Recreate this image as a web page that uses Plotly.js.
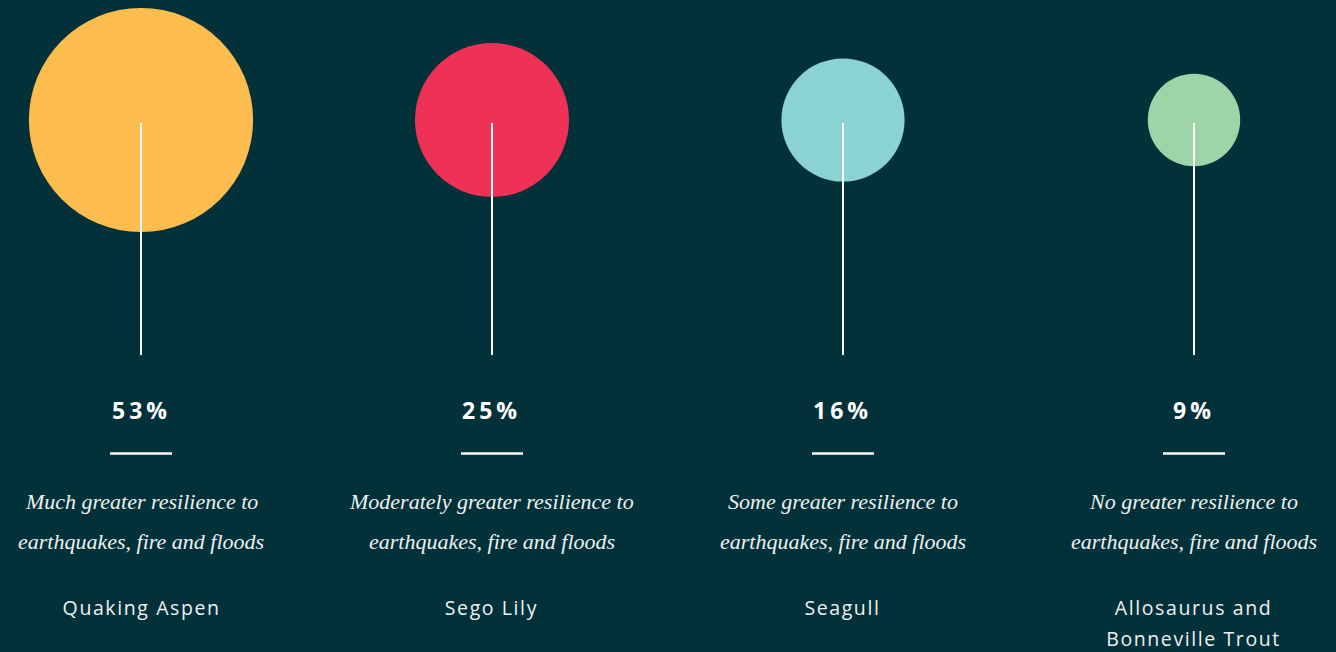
<!DOCTYPE html>
<html><head><meta charset="utf-8">
<script src="https://cdn.plot.ly/plotly-3.0.1.min.js"></script>
<style>
html,body{margin:0;padding:0;background:#02313A;overflow:hidden}
#chart{width:1336px;height:652px}
</style>
</head><body><div id="chart"></div>
<script>
// ---- data ----
const categories = ["Quaking Aspen", "Sego Lily", "Seagull", "Allosaurus and<br>Bonneville Trout"];
const shares = [53, 25, 16, 9];
const percentLabels = ["53%", "25%", "16%", "9%"];
const descriptions = [
  "Much greater resilience to<br>earthquakes, fire and floods",
  "Moderately greater resilience to<br>earthquakes, fire and floods",
  "Some greater resilience to<br>earthquakes, fire and floods",
  "No greater resilience to<br>earthquakes, fire and floods"
];

// ---- styles ----
const palette = ["#FDBD4E", "#EF3155", "#8BD2D3", "#9DD4A8"];
const bg = "#02313A";
const xs = categories.map((_, i) => i);
const circleY = 120;

const trace = {
  type: "scatter", mode: "markers",
  x: xs, y: xs.map(() => circleY),
  marker: {size: shares, sizemode: "area", sizeref: 0.002108, color: palette, line: {width: 0}, opacity: 1},
  hoverinfo: "skip", cliponaxis: false, showlegend: false
};

const shapes = [];
const annotations = [];
xs.forEach(i => {
  shapes.push({type: "line", xref: "x", yref: "y", x0: i, x1: i, y0: 123, y1: 355,
               line: {color: "#FFFFFF", width: 2}, layer: "above"});
  shapes.push({type: "line", xref: "x", yref: "y", xsizemode: "pixel", xanchor: i, x0: -31, x1: 31,
               y0: 453.5, y1: 453.5, line: {color: "#FFFFFF", width: 2.5}, layer: "above"});
  annotations.push({xref: "x", yref: "y", x: i, y: 410, text: "<b>" + percentLabels[i] + "</b>", showarrow: false,
                    font: {family: "Open Sans, sans-serif", size: 23, color: "#FFFFFF", weight: 700},
                    xanchor: "center", yanchor: "middle"});
  descriptions[i].split("<br>").forEach((ln, k) => {
    annotations.push({xref: "x", yref: "y", x: i, y: 501 + 40 * k, text: ln, showarrow: false,
                      font: {family: "Liberation Serif, serif", size: 22, color: "#EEF1F1", style: "italic"},
                      xanchor: "center", yanchor: "middle"});
  });
  categories[i].split("<br>").forEach((ln, k) => {
    annotations.push({xref: "x", yref: "y", x: i, y: 607.5 + 31 * k, text: ln, showarrow: false,
                      font: {family: "Open Sans, sans-serif", size: 19.5, color: "#EEF1F1"},
                      xanchor: "center", yanchor: "middle", borderpad: 0});
  });
});

const layout = {
  width: 1336, height: 652,
  margin: {l: 0, r: 0, t: 0, b: 0, pad: 0},
  paper_bgcolor: bg, plot_bgcolor: bg,
  xaxis: {range: [-0.4017, 3.4046], visible: false, fixedrange: true},
  yaxis: {range: [652, 0], visible: false, fixedrange: true},
  shapes: shapes, annotations: annotations, showlegend: false, hovermode: false
};

Plotly.newPlot("chart", [trace], layout, {staticPlot: true, displayModeBar: false}).then(() => {
  document.querySelectorAll(".annotation-text").forEach(t => {
    if (/%/.test(t.textContent)) t.style.letterSpacing = "4px";
    else if (t.style.fontStyle !== "italic") t.style.letterSpacing = "1.6px";
  });
});
</script>
</body></html>
